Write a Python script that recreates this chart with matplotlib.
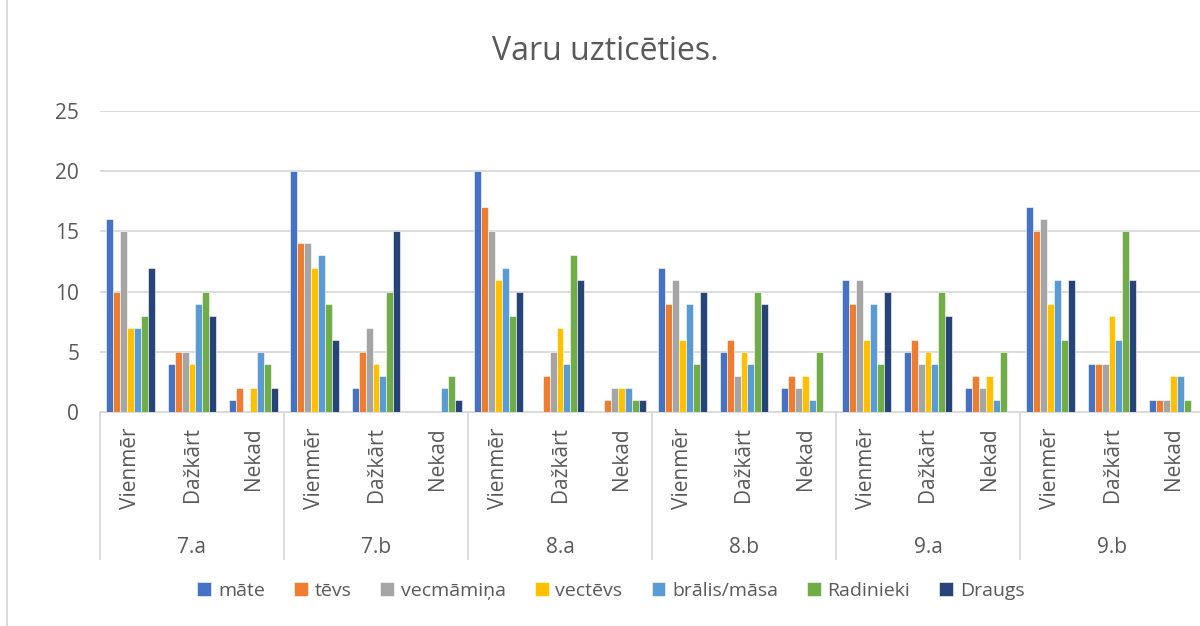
import matplotlib
matplotlib.use("Agg")
import matplotlib.pyplot as plt
from matplotlib.lines import Line2D
import numpy as np

plt.rcParams['font.family'] = ['Open Sans', 'DejaVu Sans']

# data
classes = ['7.a', '7.b', '8.a', '8.b', '9.a', '9.b']
answers = ['Vienmēr', 'Dažkārt', 'Nekad']
series = ['māte', 'tēvs', 'vecmāmiņa', 'vectēvs', 'brālis/māsa', 'Radinieki', 'Draugs']
mate      = [16, 4, 1, 20, 2, 0, 20, 0, 0, 12, 5, 2, 11, 5, 2, 17, 4, 1]
tevs      = [10, 5, 2, 14, 5, 0, 17, 3, 1, 9, 6, 3, 9, 6, 3, 15, 4, 1]
vecmamina = [15, 5, 0, 14, 7, 0, 15, 5, 2, 11, 3, 2, 11, 4, 2, 16, 4, 1]
vectevs   = [7, 4, 2, 12, 4, 0, 11, 7, 2, 6, 5, 3, 6, 5, 3, 9, 8, 3]
bralis    = [7, 9, 5, 13, 3, 2, 12, 4, 2, 9, 4, 1, 9, 4, 1, 11, 6, 3]
radinieki = [8, 10, 4, 9, 10, 3, 8, 13, 1, 4, 10, 5, 4, 10, 5, 6, 15, 1]
draugs    = [12, 8, 2, 6, 15, 1, 10, 11, 1, 10, 9, 0, 10, 8, 0, 11, 11, 0]
values = [mate, tevs, vecmamina, vectevs, bralis, radinieki, draugs]
colors = ['#4472C4', '#ED7D31', '#A5A5A5', '#FFC000', '#5B9BD5', '#70AD47', '#264478']

txt = '#595959'
grid = '#d9d9d9'

fig = plt.figure(figsize=(12, 6.26), dpi=100)
ax = fig.add_axes([100 / 1200, 214 / 626, 1104 / 1200, 301 / 626])

n = len(classes) * len(answers)
x = np.arange(n)
w = 0.79 / len(series)
for i, (name, vals, c) in enumerate(zip(series, values, colors)):
    ax.bar(x - 0.395 + w * (i + 0.5), vals, width=w, color=c, label=name,
           edgecolor='white', linewidth=0.4, zorder=3)

ax.set_xlim(-0.5, n - 0.5)
ax.set_ylim(0, 25)
ax.set_yticks(range(0, 26, 5))
ax.yaxis.grid(True, color=grid, linewidth=1.3, zorder=0)
ax.tick_params(axis='y', length=0, pad=15, labelsize=15, labelcolor=txt)
ax.set_xticks([])
for s in ['top', 'right', 'left']:
    ax.spines[s].set_visible(False)
ax.spines['bottom'].set_color(grid)
ax.spines['bottom'].set_linewidth(1.3)

# multi-level category axis
for k in range(n):
    ax.text(k, -0.05, answers[k % 3], rotation=90, ha='center', va='top',
            fontsize=15, color=txt, transform=ax.get_xaxis_transform())
for j, cl in enumerate(classes):
    ax.text(j * 3 + 1, -0.449, cl, ha='center', va='center', fontsize=15,
            color=txt, transform=ax.get_xaxis_transform())
    ax.plot([j * 3 - 0.5] * 2, [0, -0.49], color=grid, linewidth=1.3,
            transform=ax.get_xaxis_transform(), clip_on=False)

fig.suptitle('Varu uzticēties.', x=605 / 1200, y=1 - 52 / 626, va='center',
             fontsize=23, color=txt)

ax.legend(loc='center', bbox_to_anchor=(611 / 1200, 1 - 591 / 626),
          bbox_transform=fig.transFigure, ncol=7, frameon=False,
          fontsize=14, labelcolor=txt, handlelength=0.7, handleheight=0.7,
          handletextpad=0.35, columnspacing=1.5)

fig.add_artist(Line2D([7 / 1200] * 2, [0, 1], color=grid, linewidth=1.3))

fig.savefig('out.png', dpi=100)
